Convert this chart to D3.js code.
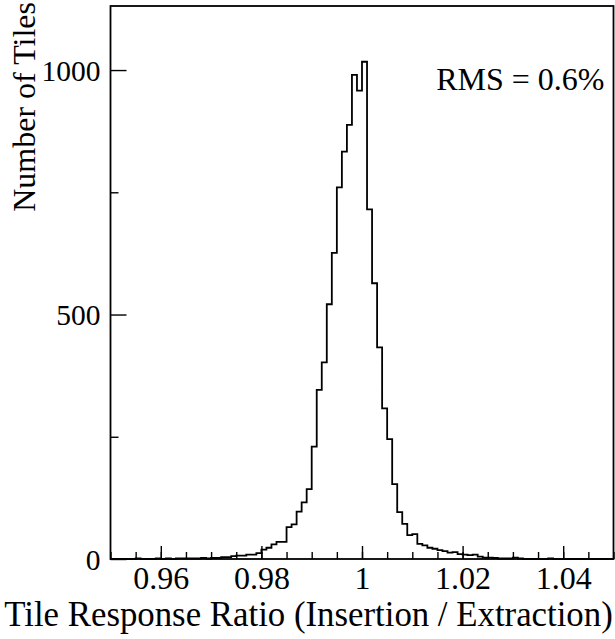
<!DOCTYPE html>
<html>
<head>
<meta charset="utf-8">
<script src="https://cdn.jsdelivr.net/npm/d3@7"></script>
<style>
  body { margin: 0; background: #fff; }
  text { font-family: "Liberation Serif", "DejaVu Serif", serif; fill: #000; }
</style>
</head>
<body>
<div id="chart"></div>
<script>
// Histogram bins: low edges, width 0.001
const binWidth = 0.001;
const binLow = d3.range(100).map(i => +(0.95 + i * binWidth).toFixed(3));

// Number of tiles per bin
const counts = [
    0, 0, 0, 0, 0, 1, 0, 0, 0, 1,
    0, 1, 0, 1, 1, 1, 1, 1, 2, 1,
    2, 2, 4, 4, 6, 7, 7, 9, 9, 12,
    19, 23, 30, 35, 35, 65, 71, 97, 116, 143,
    230, 346, 402, 521, 626, 760, 833, 888, 990, 958,
    1017, 715, 564, 433, 308, 245, 153, 96, 72, 49,
    51, 31, 28, 23, 21, 18, 16, 13, 14, 10,
    9, 8, 9, 5, 3, 3, 2, 1, 1, 1,
    3, 1, 0, 0, 0, 0, 0, 1, 0, 0,
    0, 0, 0, 0, 0, 0, 0, 0, 0, 0
];

// Tick values
const xMajorTicks = [0.96, 0.98, 1.00, 1.02, 1.04];
const xMinorTicks = d3.range(0, 21).map(i => +(0.95 + i * 0.005).toFixed(3));
const yMajorTicks = [0, 500, 1000];
const yMinorTicks = [250, 750];

const xLabel = 'Tile Response Ratio (Insertion / Extraction)';
const yLabel = 'Number of Tiles';
const note = 'RMS = 0.6%';

// Set up chart dimensions
const W = 615, H = 639;
const margin = { top: 6, right: 1.5, bottom: 80, left: 110.5 };
const width = W - margin.left - margin.right;
const height = H - margin.top - margin.bottom;

const svg = d3.select('#chart')
    .append('svg')
    .attr('width', W)
    .attr('height', H);

const g = svg.append('g')
    .attr('transform', `translate(${margin.left},${margin.top})`);

// Scales
const x = d3.scaleLinear().domain([0.95, 1.05]).range([0, width]);
const y = d3.scaleLinear().domain([0, 1131]).range([height, 0]);

// Histogram outline
const pts = binLow.map((b, i) => [b, counts[i]]);
pts.push([1.05, counts[counts.length - 1]]);

const line = d3.line()
    .x(d => x(d[0]))
    .y(d => y(d[1]))
    .curve(d3.curveStepAfter);

g.append('path')
    .datum(pts)
    .attr('fill', 'none')
    .attr('stroke', '#000')
    .attr('stroke-width', 1.8)
    .attr('d', line);

// Minor x ticks
g.append('g')
    .attr('transform', `translate(0,${height})`)
    .call(d3.axisTop(x).tickValues(xMinorTicks).tickSize(7).tickFormat(''))
    .call(a => a.select('.domain').remove())
    .selectAll('line').attr('stroke-width', 1.4);

// Major x ticks + labels
const xAxis = g.append('g')
    .attr('transform', `translate(0,${height})`)
    .call(d3.axisTop(x).tickValues(xMajorTicks).tickSize(13).tickFormat(d3.format('')));
xAxis.select('.domain').remove();
xAxis.selectAll('line').attr('stroke-width', 1.4);
xAxis.selectAll('text')
    .attr('y', 30)
    .attr('dy', 0)
    .style('font-size', '32px')
    .style('font-family', '"Liberation Serif", serif')
    .attr('text-anchor', 'middle');

// Minor y ticks
g.append('g')
    .call(d3.axisRight(y).tickValues(yMinorTicks).tickSize(8).tickFormat(''))
    .call(a => a.select('.domain').remove())
    .selectAll('line').attr('stroke-width', 1.4);

// Major y ticks + labels
const yAxis = g.append('g')
    .call(d3.axisRight(y).tickValues(yMajorTicks).tickSize(16).tickFormat(d3.format('d')));
yAxis.select('.domain').remove();
yAxis.selectAll('line').attr('stroke-width', 1.4);
yAxis.selectAll('text')
    .attr('x', -10)
    .attr('dy', '0.35em')
    .attr('text-anchor', 'end')
    .style('font-size', '29.5px')
    .style('font-family', '"Liberation Serif", serif');

// Frame
g.append('rect')
    .attr('x', 0)
    .attr('y', 0)
    .attr('width', width)
    .attr('height', height)
    .attr('fill', 'none')
    .attr('stroke', '#000')
    .attr('stroke-width', 1.8);

// RMS note
g.append('text')
    .attr('x', x(1.0482))
    .attr('y', 84)
    .attr('text-anchor', 'end')
    .style('font-size', '32px')
    .text(note);

// Axis titles
svg.append('text')
    .attr('x', W / 2 + 1)
    .attr('y', 626)
    .attr('text-anchor', 'middle')
    .style('font-size', '34.8px')
    .text(xLabel);

svg.append('text')
    .attr('transform', `translate(35,2) rotate(-90)`)
    .attr('text-anchor', 'end')
    .style('font-size', '32px')
    .text(yLabel);
</script>
</body>
</html>
